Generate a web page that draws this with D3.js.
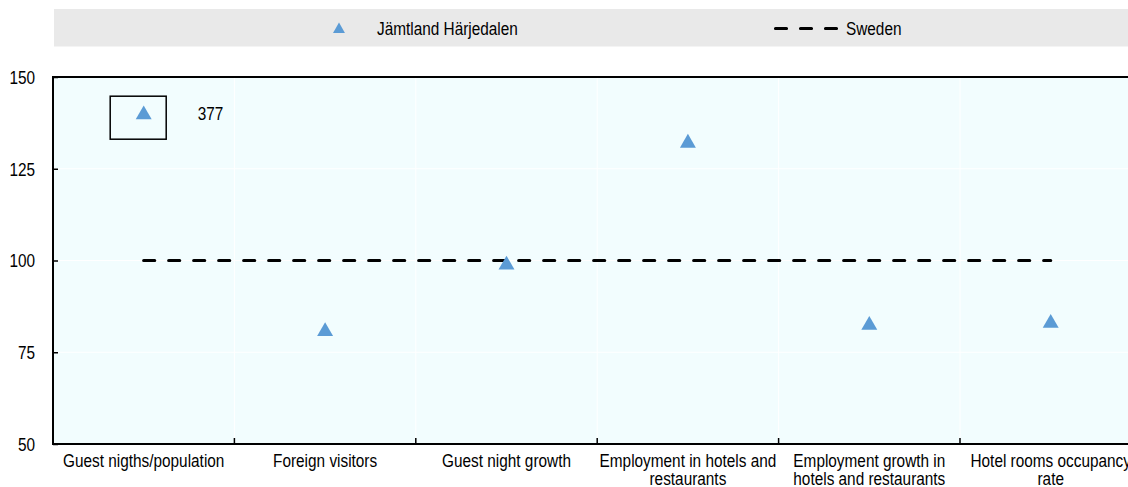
<!DOCTYPE html>
<html><head><meta charset="utf-8">
<script src="https://cdn.jsdelivr.net/npm/d3@7"></script>
<style>body{margin:0;background:#fff;}svg{display:block;font-family:"Liberation Sans",Arial,sans-serif;}</style>
</head><body><svg id="c" width="1128" height="487"></svg>
<script>
const categories = ["Guest nigths/population","Foreign visitors","Guest night growth","Employment in hotels and restaurants","Employment growth in hotels and restaurants","Hotel rooms occupancy rate"];
const categoryLines = [["Guest nigths/population"],["Foreign visitors"],["Guest night growth"],["Employment in hotels and","restaurants"],["Employment growth in","hotels and restaurants"],["Hotel rooms occupancy","rate"]];
const regionValues = [377, 80.7, 98.8, 132, 82.4, 82.9];
const swedenValues = [100, 100, 100, 100, 100, 100];
const yTicks = [50, 75, 100, 125, 150];
const yDomain = [50, 150];
const regionName = "Jämtland Härjedalen";
const countryName = "Sweden";

const FS = 18.5;
const SX = 0.83; // narrow font emulation
const svg = d3.select("#c");
const m = {l:53, t:77, b:444};
const bandW = 181.4;
const x = d3.scaleBand().domain(categories).range([m.l, m.l + bandW*categories.length]);
const y = d3.scaleLinear().domain(yDomain).range([m.b, m.t]);
const blue = "#5b9bd5";
const tri = d3.symbol().type(d3.symbolTriangle);

function ntext(parent, tx, ty, lines, anchor, lh) {
  const g = parent.append("g").attr("transform", `translate(${tx},${ty}) scale(${SX},1)`);
  const t = g.append("text").attr("text-anchor", anchor || "start").attr("font-size", FS).attr("fill", "#000");
  (Array.isArray(lines) ? lines : [lines]).forEach((s, j) => {
    t.append("tspan").attr("x", 0).attr("y", j * (lh || 19)).text(s);
  });
  return g;
}

// legend
svg.append("rect").attr("x",54).attr("y",9).attr("width",1128-54).attr("height",37.5).attr("fill","#e9e9e9");
svg.append("path").attr("d", tri.size(62)()).attr("transform","translate(339,29.5)").attr("fill",blue);
ntext(svg, 377, 35, regionName);
svg.append("line").attr("x1",775.5).attr("x2",837).attr("y1",28.5).attr("y2",28.5).attr("stroke","#000").attr("stroke-width",3.2).attr("stroke-linecap","round").attr("stroke-dasharray","11,14");
ntext(svg, 846, 35, countryName);

// plot background
svg.append("rect").attr("x",m.l).attr("y",m.t).attr("width",1128-m.l).attr("height",m.b-m.t).attr("fill","#f2fdfe");
// grid
svg.append("g").selectAll("line").data(yTicks).join("line")
  .attr("x1",m.l).attr("x2",1128).attr("y1",d=>y(d)).attr("y2",d=>y(d)).attr("stroke","#fff").attr("stroke-width",1);
svg.append("g").selectAll("line").data(categories.slice(1)).join("line")
  .attr("x1",d=>x(d)).attr("x2",d=>x(d)).attr("y1",m.t).attr("y2",m.b).attr("stroke","#fff").attr("stroke-width",1);

// axes
const yAxis = d3.axisLeft(y).tickValues(yTicks).tickSize(-5).tickPadding(0);
const gy = svg.append("g").attr("transform",`translate(${m.l},0)`).call(yAxis);
gy.select(".domain").remove();
gy.selectAll(".tick line").attr("stroke","#000").attr("stroke-width",1.5);
gy.selectAll("text").attr("font-size",FS).attr("fill","#000").attr("font-family",null)
  .attr("text-anchor","end").attr("x",(35-m.l)/SX).attr("dy","0.35em").attr("transform",`scale(${SX},1)`);
svg.append("line").attr("x1",m.l).attr("x2",m.l).attr("y1",m.t-1).attr("y2",m.b+1).attr("stroke","#000").attr("stroke-width",2);
svg.append("line").attr("x1",m.l).attr("x2",1128).attr("y1",m.t).attr("y2",m.t).attr("stroke","#000").attr("stroke-width",2);
svg.append("line").attr("x1",m.l-1).attr("x2",1128).attr("y1",m.b).attr("y2",m.b).attr("stroke","#000").attr("stroke-width",2);
svg.append("g").selectAll("line").data(categories.slice(1)).join("line")
  .attr("x1",d=>x(d)).attr("x2",d=>x(d)).attr("y1",m.b).attr("y2",m.b-6).attr("stroke","#000").attr("stroke-width",1.5);

// x labels
const gx = svg.append("g");
categories.forEach((c,i)=>{
  ntext(gx, x(c)+x.bandwidth()/2, m.b+22.5, categoryLines[i], "middle", 18.5);
});

// Sweden dashed line
const line = d3.line().x((d,i)=>x(categories[i])+x.bandwidth()/2).y(d=>y(d));
svg.append("path").datum(swedenValues).attr("d",line).attr("fill","none").attr("stroke","#000").attr("stroke-width",3.2).attr("stroke-linecap","round").attr("stroke-dasharray","11,14");

// region markers
const cap = 140;
regionValues.forEach((v,i)=>{
  const cx = x(categories[i])+x.bandwidth()/2;
  if (v > yDomain[1]) {
    const cy = y(cap);
    svg.append("rect").attr("x",cx-33.5).attr("y",cy-17.5).attr("width",56).attr("height",43).attr("fill","none").attr("stroke","#000").attr("stroke-width",1.5);
    svg.append("path").attr("d",tri.size(110)()).attr("transform",`translate(${cx},${cy+1})`).attr("fill",blue);
    ntext(svg, cx+54, cy+6.5, d3.format("d")(v));
  } else {
    svg.append("path").attr("d",tri.size(110)()).attr("transform",`translate(${cx},${y(v)})`).attr("fill",blue);
  }
});
</script></body></html>
